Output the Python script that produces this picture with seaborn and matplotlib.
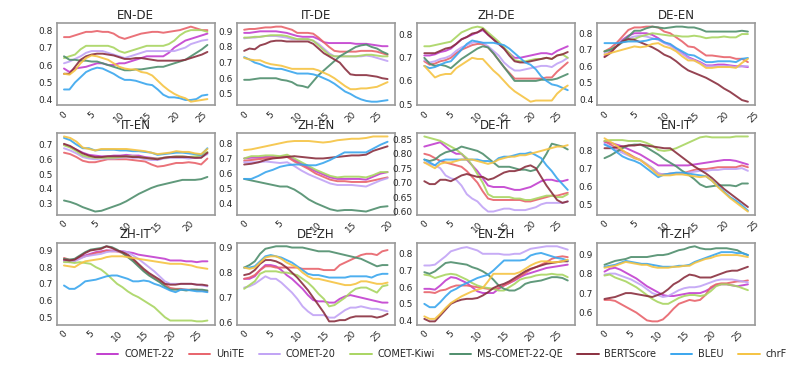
import matplotlib
matplotlib.use("Agg")
import numpy as np
import pandas as pd
import seaborn as sns
from matplotlib import pyplot as plt
from matplotlib.lines import Line2D
from matplotlib.ticker import MultipleLocator, MaxNLocator

metrics = ["COMET-22", "UniTE", "COMET-20", "COMET-Kiwi", "MS-COMET-22-QE", "BERTScore", "BLEU", "chrF"]
colors = ["#c23fcf", "#e8636b", "#c1a3f5", "#a9d562", "#4f8e6d", "#8a2f3f", "#3aa6ee", "#f5c342"]

en_de = {
    "COMET-22": [0.58, 0.56, 0.58, 0.585, 0.59, 0.60, 0.61, 0.61, 0.60, 0.60, 0.61, 0.61, 0.62, 0.63, 0.64, 0.65, 0.65, 0.65, 0.65, 0.67, 0.70, 0.72, 0.74, 0.75, 0.76, 0.77, 0.78],
    "UniTE": [0.76, 0.76, 0.77, 0.78, 0.79, 0.79, 0.795, 0.79, 0.79, 0.78, 0.76, 0.75, 0.76, 0.77, 0.78, 0.785, 0.79, 0.79, 0.785, 0.79, 0.795, 0.80, 0.81, 0.82, 0.81, 0.80, 0.80],
    "COMET-20": [0.61, 0.62, 0.635, 0.65, 0.67, 0.68, 0.68, 0.68, 0.67, 0.66, 0.65, 0.64, 0.65, 0.66, 0.67, 0.68, 0.68, 0.68, 0.68, 0.68, 0.68, 0.69, 0.70, 0.72, 0.73, 0.74, 0.745],
    "COMET-Kiwi": [0.64, 0.65, 0.66, 0.69, 0.71, 0.71, 0.71, 0.71, 0.71, 0.70, 0.68, 0.67, 0.68, 0.69, 0.70, 0.71, 0.71, 0.71, 0.71, 0.72, 0.74, 0.77, 0.79, 0.80, 0.80, 0.80, 0.79],
    "MS-COMET-22-QE": [0.65, 0.63, 0.63, 0.625, 0.625, 0.62, 0.62, 0.61, 0.60, 0.59, 0.58, 0.57, 0.57, 0.575, 0.575, 0.58, 0.585, 0.59, 0.59, 0.60, 0.61, 0.62, 0.63, 0.65, 0.67, 0.69, 0.715],
    "BERTScore": [0.55, 0.55, 0.59, 0.63, 0.65, 0.66, 0.665, 0.665, 0.66, 0.655, 0.645, 0.635, 0.635, 0.64, 0.64, 0.635, 0.63, 0.625, 0.625, 0.625, 0.625, 0.625, 0.63, 0.64, 0.65, 0.66, 0.675],
    "BLEU": [0.46, 0.46, 0.50, 0.53, 0.56, 0.575, 0.585, 0.58, 0.565, 0.55, 0.53, 0.515, 0.515, 0.51, 0.50, 0.49, 0.485, 0.46, 0.43, 0.415, 0.415, 0.41, 0.40, 0.40, 0.405, 0.425, 0.43],
    "chrF": [0.55, 0.545, 0.57, 0.61, 0.64, 0.655, 0.65, 0.64, 0.63, 0.61, 0.59, 0.58, 0.575, 0.575, 0.56, 0.555, 0.54, 0.51, 0.48, 0.455, 0.435, 0.42, 0.41, 0.39, 0.395, 0.40, 0.405],
}

it_de = {
    "COMET-22": [0.89, 0.89, 0.895, 0.90, 0.90, 0.90, 0.90, 0.895, 0.89, 0.88, 0.87, 0.865, 0.865, 0.865, 0.85, 0.83, 0.825, 0.825, 0.825, 0.825, 0.825, 0.82, 0.82, 0.82, 0.815, 0.81, 0.805, 0.805],
    "UniTE": [0.91, 0.915, 0.915, 0.92, 0.925, 0.925, 0.93, 0.93, 0.92, 0.91, 0.89, 0.89, 0.89, 0.885, 0.86, 0.83, 0.80, 0.775, 0.77, 0.77, 0.77, 0.77, 0.775, 0.775, 0.775, 0.77, 0.76, 0.75],
    "COMET-20": [0.855, 0.86, 0.86, 0.865, 0.87, 0.87, 0.87, 0.865, 0.86, 0.85, 0.85, 0.85, 0.85, 0.84, 0.82, 0.79, 0.76, 0.74, 0.74, 0.74, 0.74, 0.74, 0.74, 0.745, 0.74, 0.73, 0.72, 0.71],
    "COMET-Kiwi": [0.86, 0.86, 0.865, 0.865, 0.87, 0.875, 0.875, 0.875, 0.87, 0.86, 0.85, 0.85, 0.85, 0.84, 0.81, 0.78, 0.75, 0.74, 0.74, 0.74, 0.74, 0.74, 0.745, 0.75, 0.75, 0.745, 0.74, 0.74],
    "MS-COMET-22-QE": [0.59, 0.59, 0.595, 0.60, 0.60, 0.60, 0.60, 0.59, 0.585, 0.575, 0.555, 0.55, 0.54, 0.58, 0.62, 0.65, 0.68, 0.71, 0.74, 0.76, 0.78, 0.80, 0.81, 0.815, 0.80, 0.79, 0.77, 0.755],
    "BERTScore": [0.775, 0.79, 0.785, 0.81, 0.82, 0.835, 0.84, 0.84, 0.835, 0.835, 0.835, 0.835, 0.835, 0.82, 0.79, 0.76, 0.74, 0.72, 0.70, 0.66, 0.625, 0.62, 0.62, 0.62, 0.615, 0.61, 0.60, 0.595],
    "BLEU": [0.735, 0.72, 0.70, 0.69, 0.675, 0.665, 0.66, 0.66, 0.65, 0.64, 0.63, 0.63, 0.63, 0.625, 0.615, 0.60, 0.585, 0.565, 0.54, 0.515, 0.50, 0.48, 0.465, 0.455, 0.45, 0.45, 0.455, 0.46],
    "chrF": [0.73, 0.72, 0.715, 0.715, 0.70, 0.69, 0.685, 0.68, 0.67, 0.66, 0.66, 0.66, 0.66, 0.66, 0.65, 0.635, 0.62, 0.60, 0.575, 0.55, 0.53, 0.53, 0.535, 0.535, 0.54, 0.545, 0.56, 0.575],
}

zh_de = {
    "COMET-22": [0.71, 0.71, 0.715, 0.725, 0.73, 0.74, 0.76, 0.78, 0.79, 0.80, 0.81, 0.82, 0.80, 0.78, 0.76, 0.74, 0.72, 0.70, 0.70, 0.705, 0.71, 0.715, 0.72, 0.72, 0.715, 0.73, 0.74, 0.75],
    "UniTE": [0.685, 0.67, 0.675, 0.685, 0.69, 0.70, 0.72, 0.735, 0.745, 0.755, 0.76, 0.76, 0.745, 0.72, 0.69, 0.66, 0.635, 0.61, 0.61, 0.61, 0.61, 0.61, 0.61, 0.615, 0.615, 0.64, 0.66, 0.68],
    "COMET-20": [0.69, 0.68, 0.685, 0.695, 0.70, 0.71, 0.73, 0.745, 0.755, 0.765, 0.77, 0.765, 0.75, 0.73, 0.71, 0.68, 0.66, 0.645, 0.645, 0.65, 0.655, 0.66, 0.665, 0.665, 0.66, 0.675, 0.685, 0.70],
    "COMET-Kiwi": [0.75, 0.75, 0.755, 0.76, 0.765, 0.77, 0.79, 0.81, 0.82, 0.83, 0.835, 0.83, 0.81, 0.79, 0.77, 0.745, 0.72, 0.69, 0.685, 0.685, 0.69, 0.695, 0.695, 0.70, 0.695, 0.71, 0.715, 0.70],
    "MS-COMET-22-QE": [0.70, 0.675, 0.665, 0.67, 0.665, 0.655, 0.675, 0.695, 0.71, 0.725, 0.74, 0.75, 0.745, 0.72, 0.69, 0.66, 0.63, 0.60, 0.60, 0.60, 0.60, 0.60, 0.605, 0.605, 0.605, 0.61, 0.62, 0.63],
    "BERTScore": [0.72, 0.72, 0.72, 0.73, 0.74, 0.745, 0.76, 0.78, 0.79, 0.805, 0.81, 0.825, 0.80, 0.78, 0.76, 0.74, 0.71, 0.685, 0.68, 0.68, 0.685, 0.69, 0.695, 0.70, 0.695, 0.71, 0.715, 0.725],
    "BLEU": [0.665, 0.655, 0.66, 0.67, 0.68, 0.685, 0.71, 0.735, 0.76, 0.775, 0.77, 0.765, 0.765, 0.765, 0.76, 0.755, 0.74, 0.72, 0.70, 0.68, 0.67, 0.65, 0.62, 0.60, 0.585, 0.58, 0.57, 0.56],
    "chrF": [0.665, 0.64, 0.615, 0.625, 0.63, 0.63, 0.655, 0.67, 0.685, 0.70, 0.695, 0.695, 0.67, 0.645, 0.625, 0.60, 0.575, 0.555, 0.54, 0.525, 0.51, 0.515, 0.515, 0.515, 0.515, 0.545, 0.565, 0.58],
}

de_en = {
    "COMET-22": [0.66, 0.69, 0.72, 0.76, 0.785, 0.80, 0.80, 0.80, 0.79, 0.77, 0.745, 0.73, 0.705, 0.68, 0.655, 0.64, 0.625, 0.605, 0.605, 0.61, 0.61, 0.605, 0.60, 0.60, 0.595],
    "UniTE": [0.69, 0.71, 0.74, 0.78, 0.82, 0.835, 0.835, 0.84, 0.84, 0.835, 0.81, 0.80, 0.775, 0.75, 0.72, 0.715, 0.69, 0.665, 0.665, 0.66, 0.655, 0.655, 0.645, 0.645, 0.625],
    "COMET-20": [0.68, 0.70, 0.72, 0.745, 0.77, 0.78, 0.785, 0.78, 0.77, 0.76, 0.74, 0.725, 0.70, 0.675, 0.65, 0.635, 0.62, 0.60, 0.60, 0.60, 0.60, 0.60, 0.595, 0.60, 0.60],
    "COMET-Kiwi": [0.69, 0.70, 0.72, 0.745, 0.755, 0.765, 0.78, 0.79, 0.80, 0.795, 0.79, 0.785, 0.785, 0.78, 0.78, 0.785, 0.78, 0.77, 0.775, 0.775, 0.78, 0.775, 0.775, 0.795, 0.795],
    "MS-COMET-22-QE": [0.69, 0.70, 0.72, 0.75, 0.78, 0.815, 0.815, 0.83, 0.84, 0.835, 0.83, 0.835, 0.84, 0.84, 0.835, 0.835, 0.825, 0.81, 0.81, 0.81, 0.81, 0.81, 0.81, 0.815, 0.81],
    "BERTScore": [0.655, 0.68, 0.72, 0.75, 0.765, 0.76, 0.745, 0.73, 0.715, 0.695, 0.67, 0.655, 0.63, 0.60, 0.575, 0.56, 0.545, 0.53, 0.51, 0.49, 0.465, 0.445, 0.42, 0.395, 0.385],
    "BLEU": [0.74, 0.74, 0.74, 0.745, 0.75, 0.75, 0.75, 0.755, 0.765, 0.765, 0.745, 0.735, 0.71, 0.69, 0.67, 0.665, 0.645, 0.625, 0.625, 0.63, 0.63, 0.63, 0.625, 0.645, 0.65],
    "chrF": [0.67, 0.68, 0.69, 0.70, 0.71, 0.72, 0.715, 0.72, 0.735, 0.74, 0.72, 0.71, 0.69, 0.66, 0.635, 0.635, 0.615, 0.59, 0.59, 0.595, 0.595, 0.595, 0.59, 0.62, 0.645],
}

it_en = {
    "COMET-22": [0.70, 0.685, 0.665, 0.645, 0.63, 0.625, 0.62, 0.62, 0.625, 0.625, 0.63, 0.625, 0.625, 0.615, 0.61, 0.605, 0.61, 0.615, 0.62, 0.62, 0.615, 0.61, 0.615, 0.64],
    "UniTE": [0.645, 0.635, 0.615, 0.59, 0.58, 0.58, 0.59, 0.60, 0.60, 0.60, 0.60, 0.595, 0.59, 0.585, 0.565, 0.55, 0.555, 0.565, 0.575, 0.575, 0.58, 0.575, 0.565, 0.605],
    "COMET-20": [0.675, 0.66, 0.64, 0.615, 0.605, 0.60, 0.605, 0.605, 0.605, 0.61, 0.615, 0.61, 0.61, 0.60, 0.595, 0.595, 0.605, 0.61, 0.61, 0.61, 0.605, 0.61, 0.615, 0.635],
    "COMET-Kiwi": [0.695, 0.68, 0.655, 0.625, 0.615, 0.61, 0.61, 0.61, 0.61, 0.615, 0.62, 0.62, 0.615, 0.61, 0.605, 0.605, 0.61, 0.615, 0.62, 0.62, 0.615, 0.62, 0.625, 0.65],
    "MS-COMET-22-QE": [0.32, 0.31, 0.295, 0.275, 0.26, 0.245, 0.25, 0.265, 0.28, 0.295, 0.315, 0.34, 0.365, 0.385, 0.405, 0.42, 0.43, 0.44, 0.45, 0.46, 0.46, 0.46, 0.465, 0.48],
    "BERTScore": [0.705, 0.69, 0.665, 0.64, 0.625, 0.615, 0.615, 0.62, 0.62, 0.62, 0.62, 0.615, 0.615, 0.61, 0.605, 0.60, 0.61, 0.615, 0.615, 0.615, 0.615, 0.61, 0.61, 0.645],
    "BLEU": [0.745, 0.73, 0.70, 0.675, 0.675, 0.66, 0.665, 0.665, 0.665, 0.66, 0.66, 0.655, 0.655, 0.65, 0.645, 0.63, 0.635, 0.64, 0.645, 0.645, 0.64, 0.635, 0.63, 0.675],
    "chrF": [0.755, 0.745, 0.72, 0.68, 0.67, 0.66, 0.67, 0.67, 0.67, 0.67, 0.67, 0.665, 0.66, 0.655, 0.645, 0.635, 0.64, 0.645, 0.655, 0.65, 0.65, 0.64, 0.635, 0.67],
}

zh_en = {
    "COMET-22": [0.70, 0.705, 0.705, 0.71, 0.71, 0.71, 0.715, 0.69, 0.665, 0.64, 0.615, 0.595, 0.575, 0.565, 0.565, 0.565, 0.565, 0.56, 0.58, 0.60, 0.61],
    "UniTE": [0.685, 0.69, 0.695, 0.70, 0.705, 0.705, 0.71, 0.68, 0.655, 0.63, 0.60, 0.58, 0.56, 0.55, 0.55, 0.545, 0.545, 0.545, 0.555, 0.565, 0.575],
    "COMET-20": [0.675, 0.675, 0.675, 0.68, 0.675, 0.67, 0.675, 0.65, 0.62, 0.595, 0.575, 0.555, 0.535, 0.525, 0.525, 0.525, 0.52, 0.515, 0.535, 0.555, 0.57],
    "COMET-Kiwi": [0.70, 0.715, 0.715, 0.72, 0.72, 0.715, 0.725, 0.70, 0.675, 0.65, 0.625, 0.605, 0.585, 0.575, 0.58, 0.58, 0.58, 0.575, 0.59, 0.61, 0.61],
    "MS-COMET-22-QE": [0.565, 0.555, 0.545, 0.535, 0.525, 0.515, 0.515, 0.495, 0.465, 0.43, 0.405, 0.385, 0.365, 0.355, 0.36, 0.36, 0.355, 0.35, 0.365, 0.38, 0.385],
    "BERTScore": [0.66, 0.665, 0.675, 0.69, 0.70, 0.705, 0.71, 0.715, 0.71, 0.705, 0.70, 0.70, 0.705, 0.71, 0.715, 0.72, 0.72, 0.725, 0.75, 0.765, 0.78],
    "BLEU": [0.565, 0.565, 0.585, 0.61, 0.625, 0.645, 0.655, 0.66, 0.66, 0.655, 0.655, 0.67, 0.69, 0.715, 0.74, 0.74, 0.74, 0.74, 0.765, 0.79, 0.81],
    "chrF": [0.755, 0.76, 0.77, 0.78, 0.79, 0.80, 0.81, 0.815, 0.815, 0.815, 0.81, 0.805, 0.81, 0.82, 0.825, 0.83, 0.83, 0.835, 0.845, 0.845, 0.845],
}

de_it = {
    "COMET-22": [0.825, 0.83, 0.835, 0.84, 0.825, 0.81, 0.80, 0.80, 0.78, 0.76, 0.74, 0.715, 0.69, 0.685, 0.685, 0.685, 0.68, 0.675, 0.675, 0.68, 0.685, 0.695, 0.705, 0.71, 0.71, 0.705, 0.705, 0.71],
    "UniTE": [0.80, 0.795, 0.785, 0.775, 0.77, 0.765, 0.76, 0.755, 0.74, 0.72, 0.70, 0.67, 0.645, 0.64, 0.64, 0.64, 0.64, 0.64, 0.64, 0.635, 0.635, 0.64, 0.645, 0.65, 0.655, 0.655, 0.66, 0.665],
    "COMET-20": [0.77, 0.765, 0.76, 0.75, 0.725, 0.715, 0.71, 0.69, 0.66, 0.645, 0.635, 0.615, 0.60, 0.60, 0.605, 0.61, 0.61, 0.605, 0.605, 0.605, 0.61, 0.615, 0.625, 0.63, 0.63, 0.63, 0.63, 0.635],
    "COMET-Kiwi": [0.86, 0.855, 0.85, 0.845, 0.835, 0.825, 0.815, 0.80, 0.785, 0.76, 0.73, 0.70, 0.66, 0.65, 0.65, 0.65, 0.65, 0.645, 0.645, 0.64, 0.64, 0.645, 0.65, 0.655, 0.655, 0.65, 0.65, 0.66],
    "MS-COMET-22-QE": [0.78, 0.775, 0.78, 0.795, 0.805, 0.81, 0.815, 0.825, 0.82, 0.815, 0.81, 0.80, 0.785, 0.77, 0.755, 0.755, 0.755, 0.75, 0.745, 0.745, 0.74, 0.745, 0.77, 0.80, 0.835, 0.83, 0.825, 0.815],
    "BERTScore": [0.705, 0.695, 0.695, 0.71, 0.71, 0.705, 0.715, 0.725, 0.73, 0.725, 0.72, 0.72, 0.71, 0.715, 0.725, 0.735, 0.74, 0.74, 0.745, 0.755, 0.76, 0.75, 0.72, 0.69, 0.665, 0.64, 0.63, 0.635],
    "BLEU": [0.78, 0.77, 0.76, 0.775, 0.78, 0.78, 0.78, 0.78, 0.78, 0.78, 0.78, 0.775, 0.775, 0.77, 0.785, 0.79, 0.79, 0.795, 0.80, 0.80, 0.805, 0.795, 0.785, 0.76, 0.74, 0.715, 0.695, 0.675],
    "chrF": [0.77, 0.76, 0.75, 0.765, 0.77, 0.77, 0.775, 0.78, 0.78, 0.78, 0.775, 0.77, 0.765, 0.77, 0.78, 0.785, 0.79, 0.79, 0.795, 0.795, 0.80, 0.805, 0.81, 0.815, 0.82, 0.825, 0.825, 0.83],
}

en_it = {
    "COMET-22": [0.845, 0.84, 0.83, 0.82, 0.805, 0.79, 0.775, 0.755, 0.735, 0.715, 0.715, 0.715, 0.715, 0.715, 0.715, 0.72, 0.725, 0.73, 0.735, 0.74, 0.745, 0.745, 0.74, 0.73, 0.72],
    "UniTE": [0.85, 0.83, 0.81, 0.795, 0.78, 0.76, 0.745, 0.72, 0.70, 0.67, 0.665, 0.67, 0.67, 0.67, 0.68, 0.69, 0.695, 0.695, 0.70, 0.705, 0.705, 0.705, 0.705, 0.715, 0.705],
    "COMET-20": [0.835, 0.82, 0.80, 0.785, 0.77, 0.755, 0.745, 0.725, 0.70, 0.67, 0.665, 0.665, 0.67, 0.67, 0.675, 0.68, 0.685, 0.685, 0.69, 0.69, 0.695, 0.695, 0.695, 0.70, 0.685],
    "COMET-Kiwi": [0.85, 0.855, 0.855, 0.855, 0.85, 0.85, 0.85, 0.84, 0.825, 0.80, 0.795, 0.80, 0.81, 0.825, 0.84, 0.855, 0.87, 0.875, 0.87, 0.87, 0.87, 0.87, 0.875, 0.875, 0.875],
    "MS-COMET-22-QE": [0.755, 0.77, 0.79, 0.81, 0.825, 0.83, 0.83, 0.815, 0.795, 0.775, 0.75, 0.73, 0.71, 0.685, 0.665, 0.64, 0.61, 0.595, 0.60, 0.605, 0.605, 0.605, 0.60, 0.615, 0.615],
    "BERTScore": [0.81, 0.81, 0.815, 0.82, 0.825, 0.825, 0.83, 0.825, 0.82, 0.815, 0.81, 0.81, 0.785, 0.76, 0.735, 0.71, 0.69, 0.67, 0.645, 0.615, 0.585, 0.56, 0.535, 0.51, 0.485],
    "BLEU": [0.83, 0.815, 0.79, 0.765, 0.75, 0.74, 0.725, 0.70, 0.675, 0.65, 0.665, 0.67, 0.675, 0.675, 0.67, 0.665, 0.66, 0.655, 0.63, 0.60, 0.57, 0.54, 0.52, 0.495, 0.465],
    "chrF": [0.865, 0.845, 0.825, 0.80, 0.775, 0.755, 0.745, 0.72, 0.69, 0.66, 0.66, 0.66, 0.665, 0.665, 0.66, 0.655, 0.65, 0.655, 0.63, 0.595, 0.565, 0.535, 0.51, 0.485, 0.46],
}

zh_it = {
    "COMET-22": [0.84, 0.83, 0.84, 0.86, 0.87, 0.88, 0.89, 0.895, 0.90, 0.90, 0.895, 0.895, 0.89, 0.885, 0.875, 0.87, 0.865, 0.86, 0.855, 0.85, 0.84, 0.84, 0.84, 0.835, 0.835, 0.83, 0.835, 0.835],
    "UniTE": [0.855, 0.845, 0.84, 0.855, 0.865, 0.875, 0.885, 0.89, 0.90, 0.895, 0.895, 0.885, 0.865, 0.84, 0.81, 0.78, 0.755, 0.735, 0.715, 0.695, 0.675, 0.67, 0.67, 0.665, 0.665, 0.665, 0.66, 0.655],
    "COMET-20": [0.835, 0.83, 0.835, 0.85, 0.865, 0.87, 0.875, 0.88, 0.89, 0.895, 0.895, 0.895, 0.89, 0.87, 0.85, 0.825, 0.80, 0.775, 0.745, 0.715, 0.70, 0.70, 0.70, 0.70, 0.70, 0.695, 0.69, 0.685],
    "COMET-Kiwi": [0.83, 0.83, 0.825, 0.83, 0.825, 0.82, 0.80, 0.785, 0.76, 0.73, 0.70, 0.68, 0.655, 0.635, 0.62, 0.60, 0.58, 0.56, 0.53, 0.50, 0.48, 0.48, 0.48, 0.48, 0.48, 0.475, 0.475, 0.48],
    "MS-COMET-22-QE": [0.85, 0.845, 0.85, 0.87, 0.89, 0.905, 0.91, 0.915, 0.925, 0.92, 0.905, 0.885, 0.86, 0.835, 0.805, 0.775, 0.75, 0.73, 0.71, 0.685, 0.665, 0.665, 0.665, 0.66, 0.665, 0.665, 0.665, 0.66],
    "BERTScore": [0.845, 0.84, 0.845, 0.865, 0.885, 0.90, 0.905, 0.91, 0.925, 0.915, 0.90, 0.89, 0.875, 0.85, 0.82, 0.79, 0.765, 0.745, 0.725, 0.70, 0.695, 0.695, 0.70, 0.70, 0.70, 0.695, 0.695, 0.69],
    "BLEU": [0.69, 0.67, 0.67, 0.69, 0.715, 0.72, 0.725, 0.735, 0.745, 0.75, 0.75, 0.74, 0.73, 0.715, 0.715, 0.72, 0.715, 0.70, 0.69, 0.675, 0.66, 0.65, 0.665, 0.665, 0.66, 0.655, 0.655, 0.65],
    "chrF": [0.81, 0.805, 0.80, 0.82, 0.835, 0.84, 0.845, 0.85, 0.86, 0.865, 0.865, 0.865, 0.86, 0.855, 0.85, 0.845, 0.84, 0.835, 0.83, 0.825, 0.82, 0.82, 0.82, 0.815, 0.81, 0.80, 0.795, 0.79],
}

de_zh = {
    "COMET-22": [0.775, 0.775, 0.785, 0.81, 0.83, 0.83, 0.825, 0.81, 0.79, 0.775, 0.755, 0.735, 0.71, 0.69, 0.685, 0.685, 0.68, 0.68, 0.695, 0.705, 0.71, 0.705, 0.70, 0.695, 0.69, 0.685, 0.68, 0.68],
    "UniTE": [0.775, 0.78, 0.79, 0.81, 0.825, 0.825, 0.82, 0.82, 0.82, 0.82, 0.82, 0.815, 0.815, 0.815, 0.815, 0.81, 0.81, 0.81, 0.83, 0.84, 0.85, 0.86, 0.87, 0.875, 0.875, 0.87, 0.885, 0.89],
    "COMET-20": [0.74, 0.745, 0.755, 0.77, 0.785, 0.775, 0.775, 0.76, 0.74, 0.72, 0.695, 0.665, 0.645, 0.63, 0.63, 0.63, 0.62, 0.62, 0.635, 0.65, 0.66, 0.66, 0.665, 0.66, 0.655, 0.655, 0.65, 0.645],
    "COMET-Kiwi": [0.735, 0.75, 0.765, 0.795, 0.805, 0.805, 0.805, 0.80, 0.80, 0.795, 0.79, 0.775, 0.76, 0.74, 0.715, 0.695, 0.665, 0.67, 0.685, 0.70, 0.72, 0.735, 0.74, 0.74, 0.73, 0.72, 0.745, 0.75],
    "MS-COMET-22-QE": [0.82, 0.83, 0.845, 0.875, 0.895, 0.90, 0.905, 0.905, 0.905, 0.90, 0.90, 0.90, 0.895, 0.89, 0.885, 0.885, 0.885, 0.88, 0.875, 0.87, 0.865, 0.86, 0.855, 0.845, 0.835, 0.825, 0.83, 0.83],
    "BERTScore": [0.79, 0.795, 0.81, 0.835, 0.85, 0.85, 0.845, 0.835, 0.82, 0.80, 0.78, 0.755, 0.73, 0.70, 0.67, 0.64, 0.605, 0.605, 0.61, 0.61, 0.62, 0.625, 0.625, 0.625, 0.625, 0.62, 0.625, 0.635],
    "BLEU": [0.82, 0.82, 0.825, 0.845, 0.865, 0.87, 0.865, 0.86, 0.85, 0.84, 0.825, 0.81, 0.795, 0.79, 0.79, 0.785, 0.78, 0.78, 0.78, 0.78, 0.785, 0.785, 0.785, 0.785, 0.78, 0.79, 0.795, 0.795],
    "chrF": [0.82, 0.815, 0.82, 0.84, 0.86, 0.865, 0.865, 0.855, 0.84, 0.83, 0.82, 0.80, 0.785, 0.775, 0.775, 0.77, 0.765, 0.76, 0.755, 0.75, 0.75, 0.755, 0.765, 0.765, 0.76, 0.755, 0.755, 0.76],
}

en_zh = {
    "COMET-22": [0.59, 0.59, 0.585, 0.61, 0.64, 0.66, 0.655, 0.64, 0.625, 0.60, 0.575, 0.565, 0.565, 0.565, 0.59, 0.61, 0.625, 0.64, 0.66, 0.675, 0.685, 0.695, 0.705, 0.715, 0.72, 0.725, 0.73, 0.735],
    "UniTE": [0.57, 0.57, 0.565, 0.58, 0.585, 0.60, 0.61, 0.61, 0.61, 0.605, 0.60, 0.595, 0.59, 0.59, 0.595, 0.61, 0.625, 0.645, 0.665, 0.685, 0.705, 0.72, 0.735, 0.75, 0.77, 0.78, 0.785, 0.78],
    "COMET-20": [0.73, 0.73, 0.735, 0.76, 0.785, 0.815, 0.825, 0.835, 0.84, 0.83, 0.82, 0.80, 0.80, 0.80, 0.80, 0.795, 0.795, 0.80, 0.80, 0.815, 0.83, 0.835, 0.84, 0.845, 0.845, 0.845, 0.835, 0.825],
    "COMET-Kiwi": [0.675, 0.67, 0.655, 0.665, 0.675, 0.68, 0.675, 0.66, 0.645, 0.625, 0.61, 0.60, 0.595, 0.59, 0.58, 0.58, 0.60, 0.62, 0.645, 0.655, 0.66, 0.67, 0.675, 0.675, 0.68, 0.675, 0.675, 0.66],
    "MS-COMET-22-QE": [0.69, 0.68, 0.695, 0.72, 0.745, 0.75, 0.745, 0.74, 0.735, 0.72, 0.71, 0.695, 0.675, 0.645, 0.61, 0.59, 0.58, 0.58, 0.595, 0.62, 0.63, 0.635, 0.64, 0.65, 0.66, 0.66, 0.655, 0.64],
    "BERTScore": [0.41, 0.395, 0.395, 0.43, 0.465, 0.50, 0.515, 0.525, 0.53, 0.53, 0.535, 0.55, 0.57, 0.595, 0.61, 0.62, 0.635, 0.655, 0.675, 0.695, 0.71, 0.72, 0.73, 0.74, 0.745, 0.75, 0.755, 0.755],
    "BLEU": [0.50, 0.48, 0.48, 0.51, 0.545, 0.575, 0.59, 0.61, 0.625, 0.64, 0.655, 0.665, 0.675, 0.70, 0.73, 0.76, 0.76, 0.76, 0.76, 0.765, 0.79, 0.80, 0.805, 0.795, 0.785, 0.775, 0.77, 0.76],
    "chrF": [0.425, 0.41, 0.41, 0.44, 0.475, 0.505, 0.525, 0.545, 0.56, 0.575, 0.585, 0.595, 0.635, 0.68, 0.68, 0.68, 0.68, 0.68, 0.69, 0.71, 0.73, 0.745, 0.755, 0.755, 0.75, 0.75, 0.755, 0.765],
}

it_zh = {
    "COMET-22": [0.81, 0.825, 0.83, 0.82, 0.805, 0.79, 0.775, 0.755, 0.735, 0.72, 0.705, 0.69, 0.685, 0.685, 0.69, 0.695, 0.70, 0.70, 0.70, 0.71, 0.725, 0.74, 0.745, 0.745, 0.74, 0.735, 0.74, 0.745],
    "UniTE": [0.665, 0.665, 0.66, 0.645, 0.63, 0.615, 0.60, 0.58, 0.56, 0.555, 0.555, 0.565, 0.59, 0.62, 0.645, 0.655, 0.665, 0.66, 0.665, 0.69, 0.73, 0.745, 0.75, 0.75, 0.755, 0.76, 0.76, 0.765],
    "COMET-20": [0.795, 0.80, 0.80, 0.79, 0.78, 0.77, 0.755, 0.74, 0.72, 0.70, 0.69, 0.68, 0.685, 0.70, 0.715, 0.725, 0.73, 0.73, 0.735, 0.745, 0.755, 0.765, 0.77, 0.77, 0.77, 0.765, 0.76, 0.755],
    "COMET-Kiwi": [0.79, 0.795, 0.78, 0.77, 0.76, 0.745, 0.73, 0.71, 0.69, 0.67, 0.655, 0.645, 0.645, 0.66, 0.675, 0.685, 0.69, 0.69, 0.685, 0.69, 0.71, 0.735, 0.745, 0.745, 0.74, 0.735, 0.725, 0.715],
    "MS-COMET-22-QE": [0.845, 0.855, 0.865, 0.87, 0.875, 0.885, 0.885, 0.885, 0.885, 0.89, 0.895, 0.895, 0.90, 0.91, 0.92, 0.925, 0.935, 0.94, 0.93, 0.925, 0.925, 0.93, 0.93, 0.93, 0.925, 0.92, 0.905, 0.895],
    "BERTScore": [0.67, 0.675, 0.68, 0.69, 0.70, 0.70, 0.695, 0.69, 0.685, 0.68, 0.69, 0.70, 0.72, 0.745, 0.76, 0.78, 0.795, 0.79, 0.78, 0.78, 0.78, 0.79, 0.80, 0.81, 0.815, 0.815, 0.825, 0.835],
    "BLEU": [0.835, 0.84, 0.845, 0.855, 0.865, 0.86, 0.855, 0.85, 0.85, 0.845, 0.84, 0.835, 0.835, 0.835, 0.84, 0.84, 0.845, 0.86, 0.87, 0.88, 0.89, 0.90, 0.91, 0.91, 0.91, 0.905, 0.905, 0.895],
    "chrF": [0.83, 0.835, 0.84, 0.85, 0.86, 0.855, 0.85, 0.845, 0.845, 0.835, 0.83, 0.83, 0.83, 0.835, 0.835, 0.84, 0.84, 0.855, 0.865, 0.875, 0.88, 0.89, 0.895, 0.895, 0.895, 0.895, 0.89, 0.885],
}

panels = [
    ("EN-DE", en_de), ("IT-DE", it_de), ("ZH-DE", zh_de), ("DE-EN", de_en),
    ("IT-EN", it_en), ("ZH-EN", zh_en), ("DE-IT", de_it), ("EN-IT", en_it),
    ("ZH-IT", zh_it), ("DE-ZH", de_zh), ("EN-ZH", en_zh), ("IT-ZH", it_zh),
]

sns.set_style("white")
plt.rcParams["font.family"] = ["DejaVu Sans"]

fig, axes = plt.subplots(3, 4, figsize=(7.89, 3.75), dpi=100)
fig.subplots_adjust(left=0.072, right=0.957, bottom=0.133, top=0.939, wspace=0.142, hspace=0.33)

palette = dict(zip(metrics, colors))

for ax, (title, data) in zip(axes.flat, panels):
    rows = []
    for m in metrics:
        for i, v in enumerate(data[m]):
            rows.append({"step": i, "score": v, "metric": m})
    df = pd.DataFrame(rows)
    sns.lineplot(data=df, x="step", y="score", hue="metric", hue_order=metrics,
                 palette=palette, linewidth=1.4, alpha=0.9, legend=False, ax=ax)
    ax.set_title(title, fontsize=8.5, pad=3)
    ax.set_xlabel("")
    ax.set_ylabel("")
    ax.xaxis.set_major_locator(MultipleLocator(5))
    ax.yaxis.set_major_locator(MaxNLocator(nbins=6, steps=[1, 2.5, 5, 10]))
    ax.tick_params(axis="x", labelsize=6.5, rotation=45, length=2, pad=1)
    ax.tick_params(axis="y", labelsize=6.5, length=2, pad=1)
    for s in ax.spines.values():
        s.set_color("#9a9a9a")
        s.set_linewidth(1.2)

handles = [Line2D([0], [0], color=c, lw=1.4) for c in colors]
fig.legend(handles, metrics, loc="center", bbox_to_anchor=(0.56, 0.055), ncol=8,
           frameon=False, fontsize=7, handlelength=2.2, columnspacing=1.5, handletextpad=0.6)

fig.savefig("out.png", dpi=100)
